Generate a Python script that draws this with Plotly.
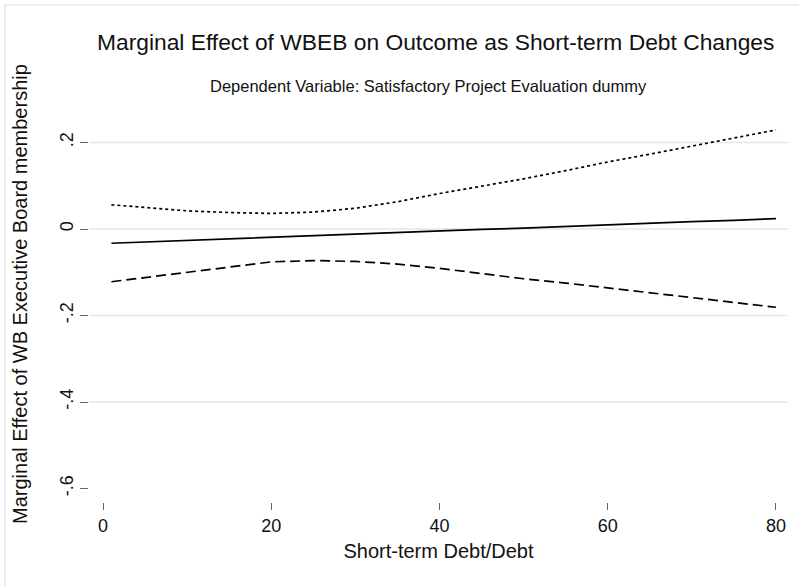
import plotly.graph_objects as go

# Data
debt_share = [1, 5, 10, 15, 20, 25, 30, 35, 40, 45, 50, 55, 60, 65, 70, 75, 80]
marginal_effect = [-0.033, -0.030, -0.026, -0.023, -0.019, -0.016, -0.012, -0.008,
                   -0.005, -0.001, 0.002, 0.006, 0.010, 0.013, 0.017, 0.020, 0.024]
upper_bound = [0.056, 0.050, 0.042, 0.038, 0.036, 0.039, 0.048, 0.063,
               0.082, 0.099, 0.116, 0.135, 0.155, 0.173, 0.192, 0.210, 0.229]
lower_bound = [-0.122, -0.112, -0.100, -0.087, -0.076, -0.073, -0.075, -0.081,
               -0.091, -0.103, -0.115, -0.125, -0.136, -0.147, -0.159, -0.170, -0.181]

x_ticks = [0, 20, 40, 60, 80]
y_ticks = [0.2, 0, -0.2, -0.4, -0.6]
y_tick_labels = [".2", "0", "-.2", "-.4", "-.6"]
y_grid = [0.2, 0, -0.2, -0.4]

FONT = "Liberation Sans, Arial, sans-serif"

fig = go.Figure()
fig.add_trace(go.Scatter(x=debt_share, y=upper_bound, mode="lines",
                         line=dict(color="black", width=1.7, dash="3px,3px"),
                         showlegend=False, hoverinfo="skip"))
fig.add_trace(go.Scatter(x=debt_share, y=marginal_effect, mode="lines",
                         line=dict(color="black", width=1.7),
                         showlegend=False))
fig.add_trace(go.Scatter(x=debt_share, y=lower_bound, mode="lines",
                         line=dict(color="black", width=1.7, dash="10px,5px"),
                         showlegend=False, hoverinfo="skip"))

shapes = []
for g in y_grid:
    shapes.append(dict(type="line", xref="paper", yref="y", x0=0, x1=1, y0=g, y1=g,
                       line=dict(color="#e6e6e6", width=1.3), layer="below"))
# outer graph-region border (light gray)
shapes.append(dict(type="rect", xref="paper", yref="paper",
                   x0=(5 - 89) / 699, x1=(805 - 89) / 699,
                   y0=(502 - 600) / 381, y1=(502 - 5) / 381,
                   line=dict(color="#e8e8e8", width=1.5), layer="below"))

fig.update_layout(
    width=799, height=586,
    margin=dict(l=89, r=11, t=121, b=84),
    paper_bgcolor="white", plot_bgcolor="white",
    font=dict(family=FONT, color="#111111"),
    title=dict(text="Marginal Effect of WBEB on Outcome as Short-term Debt Changes",
               x=0.496, xref="paper", xanchor="center",
               y=1 - 42 / 586, yref="container", yanchor="middle",
               font=dict(size=22.8, family=FONT, color="#111111")),
    shapes=shapes,
    annotations=[
        dict(text="Dependent Variable: Satisfactory Project Evaluation dummy",
             xref="paper", yref="paper", x=0.486, y=(502 - 86) / 381,
             xanchor="center", yanchor="middle", showarrow=False,
             font=dict(size=16.5, family=FONT, color="#111111")),
        dict(text="Marginal Effect of WB Executive Board membership",
             xref="paper", yref="paper", x=(20 - 89) / 699, y=(502 - 294) / 381,
             xanchor="center", yanchor="middle", textangle=-90, showarrow=False,
             font=dict(size=20, family=FONT, color="#111111")),
    ],
    xaxis=dict(range=[-1.664, 81.43], tickvals=x_ticks, ticks="outside", ticklen=7,
               tickcolor="#666666", tickwidth=1, showgrid=False, zeroline=False,
               showline=False, automargin=False,
               tickfont=dict(size=18, family=FONT, color="#111111"),
               title=dict(text="Short-term Debt/Debt", standoff=9,
                          font=dict(size=20, family=FONT, color="#111111"))),
    yaxis=dict(range=[-0.6312, 0.2497], tickvals=y_ticks, ticktext=y_tick_labels,
               ticks="outside", ticklen=8, tickcolor="#666666", tickwidth=1,
               tickangle=-90, showgrid=False, zeroline=False, showline=False,
               automargin=False,
               tickfont=dict(size=18, family=FONT, color="#111111")),
)

fig.write_html("out.html", config={"displayModeBar": False},
               post_script="document.body.style.margin='0';")
